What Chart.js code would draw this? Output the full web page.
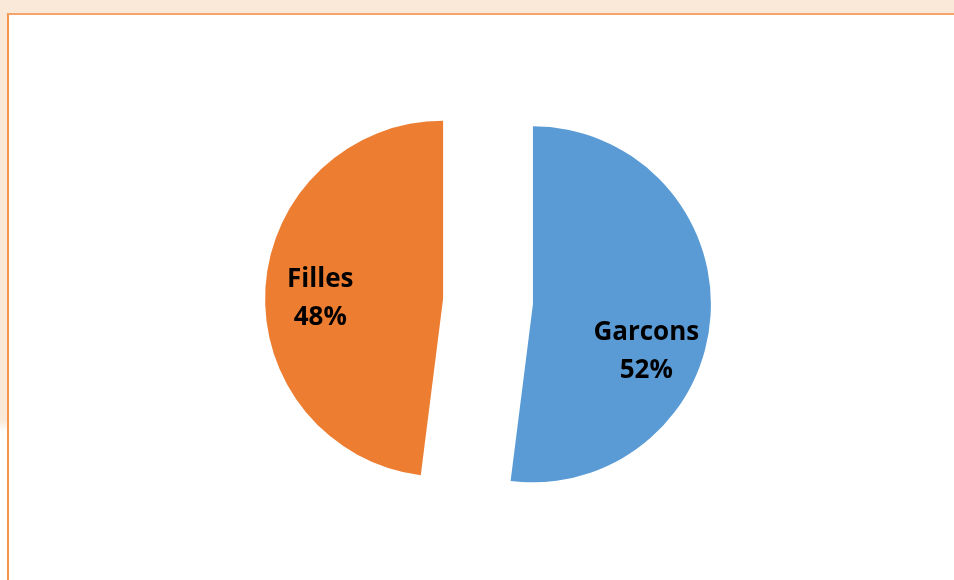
<!DOCTYPE html>
<html>
<head>
<meta charset="utf-8">
<script src="https://cdn.jsdelivr.net/npm/chart.js@4"></script>
<style>
  html, body { margin: 0; padding: 0; }
  body { width: 954px; height: 580px; position: relative; overflow: hidden; background: #fff; }
  #topband { position: absolute; left: 0; top: 0; width: 954px; height: 13px; background: #FAE8D8; }
  #leftband { position: absolute; left: 0; top: 0; width: 7px; height: 580px;
    background: linear-gradient(to bottom, #FAE8D8 0px, #FAE8D8 420px, #ffffff 432px); }
  #panel { position: absolute; left: 7px; top: 13px; width: 947px; height: 567px;
    border-top: 2px solid #F5A36A; border-left: 2px solid #F7944C; box-sizing: border-box; background: #fff; }
  #wrap { position: absolute; left: 0; top: 0; width: 954px; height: 580px; }
</style>
</head>
<body>
<div id="topband"></div>
<div id="leftband"></div>
<div id="panel"></div>
<div id="wrap"><canvas id="pieChart"></canvas></div>
<script>
const categories = ['Garcons', 'Filles'];
const percents = [52, 48];
const sliceColors = ['#5B9BD5', '#ED7D31'];

// how far each slice is pulled out from the centre, in px
const explode = 45;
const pieRadius = 178;

// chart.js's own offset option also narrows the slice angles, so the
// slices are drawn by the library and only shifted here along their mid angle
const explodedSlices = {
  id: 'explodedSlices',
  beforeDatasetDraw(chart, args) {
    const ctx = chart.ctx;
    args.meta.data.forEach(arc => {
      const mid = (arc.startAngle + arc.endAngle) / 2;
      ctx.save();
      ctx.translate(Math.cos(mid) * explode, Math.sin(mid) * explode);
      arc.draw(ctx, chart.chartArea);
      ctx.restore();
    });
    return false;
  }
};

// draws "Name\nNN%" inside each slice, like the spreadsheet data labels
const sliceLabels = {
  id: 'sliceLabels',
  afterDatasetsDraw(chart, args, opts) {
    const ctx = chart.ctx;
    const arcs = chart.getDatasetMeta(0).data;
    ctx.save();
    ctx.font = 'bold 26px "Open Sans", sans-serif';
    ctx.fillStyle = '#000';
    ctx.textAlign = 'center';
    ctx.textBaseline = 'middle';
    arcs.forEach((arc, i) => {
      const mid = (arc.startAngle + arc.endAngle) / 2;
      const cx = arc.x + Math.cos(mid) * explode;
      const cy = arc.y + Math.sin(mid) * explode;
      const a = mid + opts.shift[i] * Math.PI / 180;
      const d = pieRadius * 0.69;
      const x = cx + Math.cos(a) * d;
      const y = cy + Math.sin(a) * d;
      ctx.fillText(categories[i], x, y - 19);
      ctx.fillText(percents[i] + '%', x, y + 19);
    });
    ctx.restore();
  }
};

new Chart(document.getElementById('pieChart'), {
  type: 'pie',
  data: {
    labels: categories,
    datasets: [{
      data: percents,
      backgroundColor: sliceColors,
      borderWidth: 0
    }]
  },
  options: {
    responsive: true,
    maintainAspectRatio: false,
    animation: false,
    radius: pieRadius,
    layout: { padding: { left: 22, right: 0, top: 23, bottom: 0 } },
    plugins: {
      legend: { display: false },
      tooltip: { enabled: false },
      sliceLabels: { shift: [19, -3.5] }
    }
  },
  plugins: [explodedSlices, sliceLabels]
});
</script>
</body>
</html>
